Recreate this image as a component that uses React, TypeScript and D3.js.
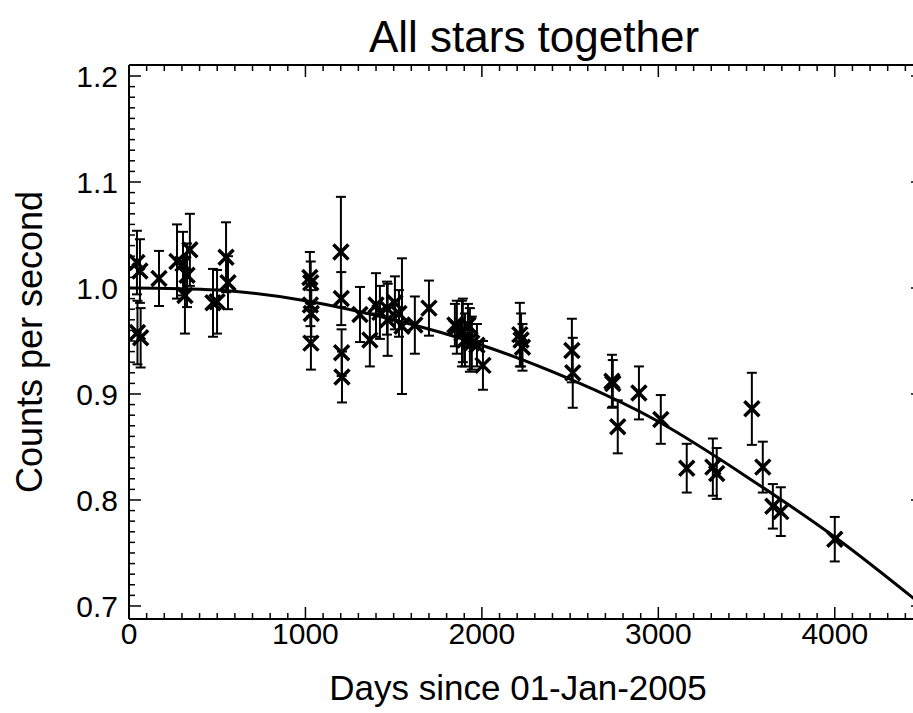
import React from 'react';
import * as d3 from 'd3';

// observations: days since 01-Jan-2005, counts per second, 1-sigma error
const days = [
  45, 62, 48, 66, 170, 272, 306, 345, 329, 317, 476, 499, 550, 561,
  1025, 1030, 1028, 1033, 1031, 1201, 1203, 1205, 1207, 1309, 1365, 1400, 1422,
  1462, 1466, 1507, 1530, 1547, 1620, 1700, 1847, 1858, 1887, 1892, 1904, 1921,
  1932, 1943, 1972, 2006, 2215, 2222, 2230, 2510, 2515, 2737, 2742, 2770, 2890,
  3014, 3161, 3309, 3331, 3530, 3592, 3649, 3694, 4000,
];
const counts = [
  1.024, 1.016, 0.958, 0.953, 1.009, 1.025, 1.023, 1.036, 1.012, 0.993, 0.986, 0.987, 1.029, 1.005,
  1.010, 1.005, 0.984, 0.976, 0.948, 1.034, 0.990, 0.939, 0.916, 0.975, 0.951, 0.984, 0.977,
  0.981, 0.970, 0.986, 0.976, 0.964, 0.965, 0.981, 0.965, 0.963, 0.957, 0.960, 0.951, 0.965,
  0.951, 0.948, 0.946, 0.927, 0.956, 0.951, 0.944, 0.941, 0.920, 0.912, 0.910, 0.869, 0.901,
  0.876, 0.830, 0.831, 0.825, 0.886, 0.831, 0.794, 0.789, 0.763,
];
const errors = [
  0.030, 0.030, 0.030, 0.028, 0.026, 0.035, 0.030, 0.034, 0.030, 0.036, 0.032, 0.030, 0.033, 0.025,
  0.024, 0.020, 0.020, 0.022, 0.025, 0.052, 0.025, 0.022, 0.024, 0.026, 0.025, 0.030, 0.025,
  0.025, 0.034, 0.025, 0.022, 0.064, 0.027, 0.026, 0.020, 0.025, 0.031, 0.030, 0.025, 0.020,
  0.030, 0.025, 0.020, 0.023, 0.030, 0.025, 0.022, 0.030, 0.033, 0.025, 0.022, 0.025, 0.025,
  0.023, 0.023, 0.027, 0.024, 0.034, 0.024, 0.021, 0.023, 0.021,
];

// fitted trend
const fitDays = [0, 500, 1000, 1500, 2000, 2500, 3000, 3500, 4000, 4500];
const fitCounts = [1.0, 0.998, 0.988, 0.970, 0.946, 0.914, 0.874, 0.822, 0.765, 0.700];

const xTickValues = [0, 1000, 2000, 3000, 4000];
const xTickLabels = ['0', '1000', '2000', '3000', '4000'];
const yTickValues = [0.7, 0.8, 0.9, 1.0, 1.1, 1.2];
const yTickLabels = ['0.7', '0.8', '0.9', '1.0', '1.1', '1.2'];

const W = 913;
const H = 713;
const FONT = '"Liberation Sans", Arial, Helvetica, sans-serif';

export default function App() {
  const left = 129, right = 923, top = 65, bottom = 619;
  const x = d3.scaleLinear().domain([0, 4500]).range([left, right]);
  const y = d3.scaleLinear().domain([0.6877, 1.2104]).range([bottom, top]);

  const xMinor = d3.range(0, 4501, 100);
  const yMinor = d3.range(70, 121, 1).map((v) => v / 100);

  const fitLine = d3
    .line<number>()
    .x((_, i) => x(fitDays[i]))
    .y((d) => y(d))
    .curve(d3.curveNatural)(fitCounts);

  const cap = 5;
  const mk = 7.5;

  return (
    <svg
      width={W}
      height={H}
      style={{ position: 'absolute', left: 0, top: 0, background: '#fff' }}
      fontFamily={FONT}
    >
      <rect width={W} height={H} fill="#fff" />
      <defs>
        <clipPath id="plot">
          <rect x={left} y={top} width={right - left} height={bottom - top} />
        </clipPath>
      </defs>

      {/* frame */}
      <g stroke="#000" strokeWidth={2} fill="none">
        <line x1={left} x2={right} y1={top} y2={top} />
        <line x1={left} x2={right} y1={bottom} y2={bottom} />
        <line x1={left} x2={left} y1={top} y2={bottom} />
        <line x1={right} x2={right} y1={top} y2={bottom} />
      </g>

      {/* ticks on all sides, pointing inward */}
      <g stroke="#000" strokeWidth={1.5}>
        {xMinor.map((d) => {
          const len = d % 1000 === 0 ? 12 : 6;
          return (
            <g key={d}>
              <line x1={x(d)} x2={x(d)} y1={bottom} y2={bottom - len} />
              <line x1={x(d)} x2={x(d)} y1={top} y2={top + len} />
            </g>
          );
        })}
        {yMinor.map((d, i) => {
          const len = i % 10 === 0 ? 12 : 6;
          return (
            <g key={i}>
              <line x1={left} x2={left + len} y1={y(d)} y2={y(d)} />
              <line x1={right} x2={right - len} y1={y(d)} y2={y(d)} />
            </g>
          );
        })}
      </g>

      {/* tick labels */}
      <g fontSize={30} fill="#000">
        {xTickValues.map((d, i) => (
          <text key={d} x={x(d)} y={644} textAnchor="middle">
            {xTickLabels[i]}
          </text>
        ))}
        {yTickValues.map((d, i) => (
          <text key={d} x={118} y={y(d)} dy="0.36em" textAnchor="end">
            {yTickLabels[i]}
          </text>
        ))}
      </g>

      {/* titles */}
      <text x={534} y={52} fontSize={44} textAnchor="middle">
        All stars together
      </text>
      <text x={518} y={700} fontSize={35} textAnchor="middle">
        Days since 01-Jan-2005
      </text>
      <text
        transform={`translate(42,342) rotate(-90)`}
        fontSize={36}
        textAnchor="middle"
      >
        Counts per second
      </text>

      <g clipPath="url(#plot)">
        {/* error bars */}
        <g stroke="#000" strokeWidth={2}>
          {days.map((d, i) => {
            const cx = x(d);
            const y0 = y(counts[i] - errors[i]);
            const y1 = y(counts[i] + errors[i]);
            return (
              <g key={i}>
                <line x1={cx} x2={cx} y1={y0} y2={y1} />
                <line x1={cx - cap} x2={cx + cap} y1={y0} y2={y0} />
                <line x1={cx - cap} x2={cx + cap} y1={y1} y2={y1} />
              </g>
            );
          })}
        </g>

        {/* fit */}
        <path d={fitLine ?? ''} fill="none" stroke="#000" strokeWidth={3} />

        {/* markers */}
        <g stroke="#000" strokeWidth={3.5}>
          {days.map((d, i) => {
            const cx = x(d);
            const cy = y(counts[i]);
            return (
              <path
                key={i}
                d={`M${cx - mk},${cy - mk}L${cx + mk},${cy + mk}M${cx - mk},${cy + mk}L${cx + mk},${cy - mk}`}
              />
            );
          })}
        </g>
      </g>
    </svg>
  );
}
